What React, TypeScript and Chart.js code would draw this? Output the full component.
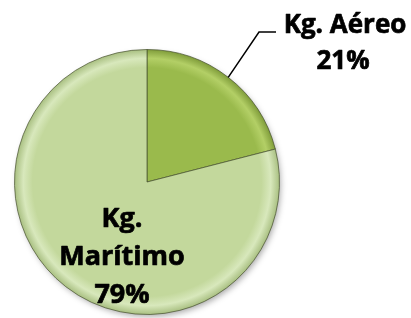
import React, { useEffect, useRef } from "react";
import { Chart, registerables } from "chart.js";

Chart.register(...registerables);

const categories = ["Kg. Aéreo", "Kg. Marítimo"];
const values = [21, 79];
const percentLabels = ["21%", "79%"];
const baseColors = ["#9aba4c", "#c3d89c"];
const rimLight = ["#b3cf66", "#d8e8bc"];
const rimDark = ["#7d9a38", "#a6bd7e"];

const FONT = '"Open Sans", "DejaVu Sans", sans-serif';

const shadowPlugin = {
  id: "pieShadow",
  beforeDatasetsDraw(chart: any) {
    const arc = chart.getDatasetMeta(0).data[1];
    if (!arc) return;
    const { x, y, outerRadius } = arc.getProps(["x", "y", "outerRadius"], true);
    const ctx = chart.ctx;
    ctx.save();
    ctx.shadowColor = "rgba(0,0,0,0.35)";
    ctx.shadowBlur = 6;
    ctx.shadowOffsetX = 2;
    ctx.shadowOffsetY = 3;
    ctx.fillStyle = "#c3d89c";
    ctx.beginPath();
    ctx.arc(x, y, outerRadius - 1, 0, Math.PI * 2);
    ctx.fill();
    ctx.restore();
  },
};

const labelPlugin = {
  id: "pieLabels",
  afterDatasetsDraw(chart: any) {
    const ctx = chart.ctx;
    const meta = chart.getDatasetMeta(0);
    const a0 = meta.data[0];
    const p0 = a0.getProps(["x", "y", "startAngle", "endAngle", "outerRadius"], true);
    const mid = (p0.startAngle + p0.endAngle) / 2;
    const sx = p0.x + Math.cos(mid) * p0.outerRadius;
    const sy = p0.y + Math.sin(mid) * p0.outerRadius;
    ctx.save();
    ctx.strokeStyle = "#000";
    ctx.lineWidth = 1.5;
    ctx.beginPath();
    ctx.moveTo(sx, sy);
    ctx.lineTo(259, 32);
    ctx.lineTo(276, 32);
    ctx.stroke();

    ctx.fillStyle = "#000";
    ctx.strokeStyle = "#000";
    ctx.lineWidth = 0.7;
    ctx.lineJoin = "round";
    ctx.textAlign = "center";
    ctx.textBaseline = "alphabetic";
    const put = (t: string, x: number, y: number) => {
      ctx.fillText(t, x, y);
      ctx.strokeText(t, x, y);
    };
    ctx.font = `bold 26px ${FONT}`;
    put(categories[0], 345, 33);
    put(percentLabels[0], 343, 69);

    ctx.font = `bold 27px ${FONT}`;
    const parts = categories[1].split(" ");
    put(parts[0], 122, 227);
    put(parts[1], 122, 265);
    put(percentLabels[1], 122, 303);
    ctx.restore();
  },
};

export default function App() {
  const ref = useRef<HTMLCanvasElement | null>(null);
  useEffect(() => {
    if (!ref.current) return;
    const bg = (c: any) => {
      const i = c.dataIndex;
      const chart = c.chart;
      const area = chart.chartArea;
      if (!area) return baseColors[i];
      const cx = (area.left + area.right) / 2;
      const cy = (area.top + area.bottom) / 2;
      const r = Math.min(area.right - area.left, area.bottom - area.top) / 2;
      const g = chart.ctx.createRadialGradient(cx, cy, 0, cx, cy, r);
      g.addColorStop(0, baseColors[i]);
      g.addColorStop(0.86, baseColors[i]);
      g.addColorStop(0.93, rimLight[i]);
      g.addColorStop(1, rimDark[i]);
      return g;
    };
    const chart = new Chart(ref.current, {
      type: "pie",
      data: {
        labels: categories,
        datasets: [
          {
            data: values,
            backgroundColor: bg,
            borderColor: "rgba(70,80,45,0.7)",
            borderWidth: 1,
          },
        ],
      },
      options: {
        responsive: false,
        animation: false,
        layout: { padding: { left: 14, right: 131, top: 49, bottom: 3 } },
        plugins: { legend: { display: false }, tooltip: { enabled: false } },
      },
      plugins: [shadowPlugin, labelPlugin],
    });
    return () => chart.destroy();
  }, []);
  return (
    <div style={{ position: "absolute", left: 0, top: 0, width: 411, height: 318, background: "#fff" }}>
      <canvas ref={ref} width={411} height={318} />
    </div>
  );
}
